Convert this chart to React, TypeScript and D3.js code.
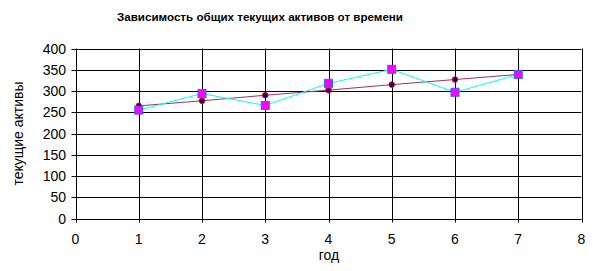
import React from "react";
import * as d3 from "d3";

const years = [1, 2, 3, 4, 5, 6, 7];
const trendValues = [265, 277, 290, 302, 315, 327, 339];
const actualValues = [255, 294, 266, 318, 351, 297, 339];
const xTicks = [0, 1, 2, 3, 4, 5, 6, 7, 8];
const yTicks = [0, 50, 100, 150, 200, 250, 300, 350, 400];
const title = "Зависимость общих текущих активов от времени";
const xLabel = "год";
const yLabel = "текущие активы";

export default function App() {
  const W = 593, H = 271;
  const left = 75.5, right = 581.5, top = 48.5, bottom = 218.5;
  const x = d3.scaleLinear().domain([0, 8]).range([left, right]);
  const y = d3.scaleLinear().domain([0, 400]).range([bottom, top]);
  const line = d3.line<number>().x((_, i) => x(years[i])).y((d) => y(d));
  const font = "'Liberation Sans', Arial, sans-serif";
  return (
    <svg width={W} height={H} style={{ position: "absolute", left: 0, top: 0, background: "#fff" }}>
      <text x={260} y={21} textAnchor="middle" fontFamily={font} fontWeight="bold" fontSize={11.6}>{title}</text>
      {yTicks.map((t) => (
        <g key={"y" + t}>
          <line x1={left - 4} x2={right} y1={Math.round(y(t)) + 0.5} y2={Math.round(y(t)) + 0.5} stroke="#000" />
          <text x={66} y={y(t) + 5} textAnchor="end" fontFamily={font} fontSize={14}>{t}</text>
        </g>
      ))}
      {xTicks.map((t) => (
        <g key={"x" + t}>
          <line x1={Math.round(x(t)) + 0.5} x2={Math.round(x(t)) + 0.5} y1={top} y2={bottom + 4} stroke="#000" />
          <text x={x(t)} y={244} textAnchor="middle" fontFamily={font} fontSize={14}>{t}</text>
        </g>
      ))}
      <text x={329} y={260} textAnchor="middle" fontFamily={font} fontSize={14}>{xLabel}</text>
      <text transform={`translate(23,${(top + bottom) / 2}) rotate(-90)`} textAnchor="middle" fontFamily={font} fontSize={14}>{yLabel}</text>
      <path d={line(trendValues) || ""} fill="none" stroke="#993366" strokeWidth={1} />
      <path d={line(actualValues) || ""} fill="none" stroke="#00ffff" strokeWidth={1} />
      {trendValues.map((v, i) => (
        <circle key={"c" + i} cx={x(years[i])} cy={y(v)} r={2.8} fill="#000080" stroke="#ff0000" strokeWidth={1} />
      ))}
      {actualValues.map((v, i) => (
        <rect key={"r" + i} x={x(years[i]) - 4} y={y(v) - 4} width={8} height={8} fill="#ff00ff" stroke="#3366ff" strokeWidth={1} />
      ))}
    </svg>
  );
}
